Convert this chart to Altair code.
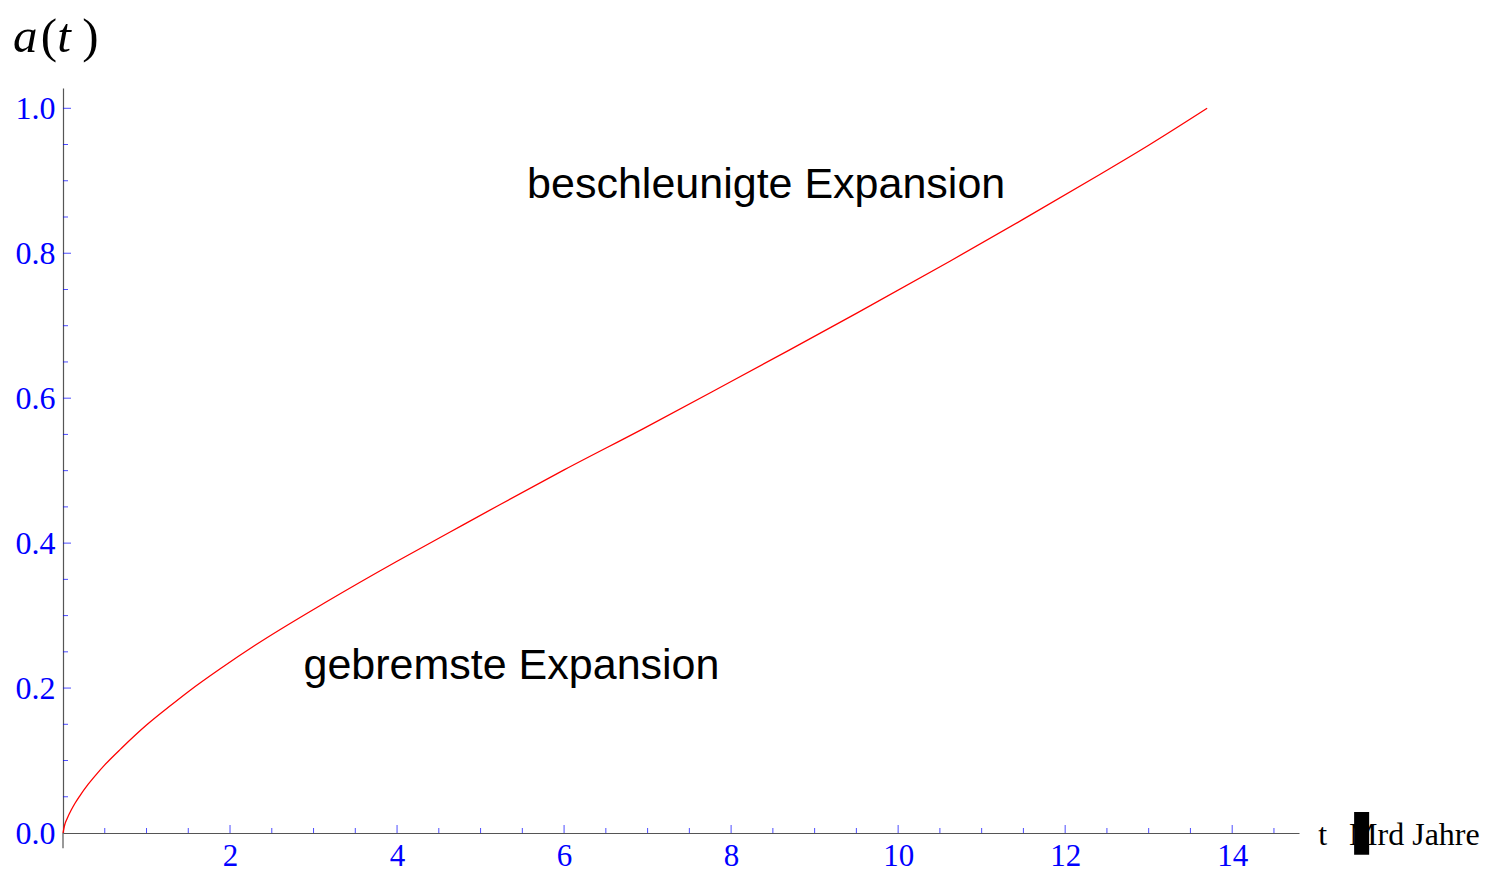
import altair as alt
import pandas as pd

# curve a(t)
t_vals = [0, 0.02, 0.05, 0.1, 0.144, 0.2, 0.3, 0.4, 0.5, 0.7, 1.0, 1.3, 1.5, 1.9, 2.3,
          3.14, 4.0, 4.63, 5.23, 6.0, 6.95, 8.0, 8.69, 9.5, 10.62, 11.5, 12.42, 13.0, 13.7]
a_vals = [0, 0.011, 0.020, 0.032, 0.041, 0.051, 0.067, 0.081, 0.094, 0.117, 0.149, 0.177, 0.195, 0.228, 0.259,
          0.318, 0.375, 0.415, 0.453, 0.501, 0.558, 0.623, 0.666, 0.717, 0.789, 0.847, 0.909, 0.949, 1.0]

x_major = [2, 4, 6, 8, 10, 12, 14]
x_minor = [0.5, 1, 1.5, 2.5, 3, 3.5, 4.5, 5, 5.5, 6.5, 7, 7.5, 8.5, 9, 9.5, 10.5, 11, 11.5,
           12.5, 13, 13.5, 14.5]
y_major = [0.2, 0.4, 0.6, 0.8, 1.0]
y_minor = [0.05, 0.1, 0.15, 0.25, 0.3, 0.35, 0.45, 0.5, 0.55, 0.65, 0.7, 0.75, 0.85, 0.9, 0.95]

notes_text = ["beschleunigte Expansion", "gebremste Expansion"]
notes_t = [8.42, 5.37]
notes_a = [0.876, 0.2124]

X_DOM = [0, 14.8]
Y_DOM = [0, 1.028]

curve = pd.DataFrame({"t": t_vals, "a": a_vals})
xs = alt.Scale(domain=X_DOM, nice=False, zero=False)
ys = alt.Scale(domain=Y_DOM, nice=False, zero=False)

BLUE = "#0000ff"
AXC = "#555555"
SERIF = "Liberation Serif"

line = alt.Chart(curve).mark_line(color="#ff0000", strokeWidth=1.3, interpolate="monotone").encode(
    x=alt.X("t:Q", scale=xs, axis=alt.Axis(
        title="", values=x_major, format="d", ticks=False, tickSize=0, domainColor=AXC, domainWidth=1.2,
        labelColor=BLUE, labelFont=SERIF, labelFontSize=31, labelPadding=8, grid=False,
        labelFlush=False)),
    y=alt.Y("a:Q", scale=ys, axis=alt.Axis(
        title="", values=[0.0] + y_major, format=".1f", ticks=False, tickSize=0, domainColor=AXC,
        domainWidth=1.2, labelColor=BLUE, labelFont=SERIF, labelFontSize=32, labelPadding=8,
        grid=False, labelFlush=False)),
)

xmaj = alt.Chart(pd.DataFrame({"v": x_major})).mark_tick(
    orient="vertical", size=8, thickness=1, yOffset=-4, color=BLUE).encode(
    x=alt.X("v:Q", scale=xs), y=alt.datum(0))
xmin = alt.Chart(pd.DataFrame({"v": x_minor})).mark_tick(
    orient="vertical", size=5, thickness=1, yOffset=-2.5, color=BLUE).encode(
    x=alt.X("v:Q", scale=xs), y=alt.datum(0))
ymaj = alt.Chart(pd.DataFrame({"v": y_major})).mark_tick(
    orient="horizontal", size=8, thickness=1, xOffset=4, color=BLUE).encode(
    y=alt.Y("v:Q", scale=ys), x=alt.datum(0))
ymin = alt.Chart(pd.DataFrame({"v": y_minor})).mark_tick(
    orient="horizontal", size=5, thickness=1, xOffset=2.5, color=BLUE).encode(
    y=alt.Y("v:Q", scale=ys), x=alt.datum(0))

# y axis line extends a little below zero
yext = alt.Chart(pd.DataFrame({"x0": [0], "y0": [0], "y1": [-0.021]})).mark_rule(
    color=AXC, strokeWidth=1.2).encode(
    x=alt.X("x0:Q", scale=xs), y=alt.Y("y0:Q", scale=ys), y2="y1:Q")

notes = alt.Chart(pd.DataFrame({"txt": notes_text, "t": notes_t, "a": notes_a})).mark_text(
    font="Liberation Sans", fontSize=43, align="center", baseline="alphabetic", color="black").encode(
    x=alt.X("t:Q", scale=xs), y=alt.Y("a:Q", scale=ys), text="txt:N")

# axis label "t  Mrd Jahre" with its black glyph box
xlab = alt.Chart(pd.DataFrame({"txt": ["t", "Mrd Jahre"], "t": [15.03, 15.40], "a": [-0.0166, -0.0166]})).mark_text(
    font=SERIF, fontSize=32, align="left", baseline="alphabetic", color="black").encode(
    x=alt.X("t:Q", scale=xs), y=alt.Y("a:Q", scale=ys), text="txt:N")
box = alt.Chart(pd.DataFrame({"x0": [15.46], "x1": [15.64], "y0": [0.029], "y1": [-0.030]})).mark_rect(
    color="black").encode(
    x=alt.X("x0:Q", scale=xs), x2="x1:Q", y=alt.Y("y0:Q", scale=ys), y2="y1:Q")

# y axis label a(t): italic letters, upright parentheses
ital = alt.Chart(pd.DataFrame({"txt": ["a", "t"], "t": [-0.60, -0.07], "a": [1.077, 1.077]})).mark_text(
    font=SERIF, fontSize=49, fontStyle="italic", align="left", baseline="alphabetic", color="black").encode(
    x=alt.X("t:Q", scale=xs), y=alt.Y("a:Q", scale=ys), text="txt:N")
par = alt.Chart(pd.DataFrame({"txt": ["(", ")"], "t": [-0.265, 0.23], "a": [1.077, 1.077]})).mark_text(
    font=SERIF, fontSize=49, align="left", baseline="alphabetic", color="black").encode(
    x=alt.X("t:Q", scale=xs), y=alt.Y("a:Q", scale=ys), text="txt:N")

chart = alt.layer(line, yext, xmin, xmaj, ymin, ymaj, notes, xlab, box, ital, par).properties(
    width=1236, height=745,
    autosize=alt.AutoSizeParams(type="none"),
    padding={"left": 55, "top": 80, "right": 183, "bottom": 40},
).configure(background="white").configure_view(stroke="transparent", strokeWidth=0)

chart.save("out.html", embed_options={"renderer": "svg", "actions": False})
